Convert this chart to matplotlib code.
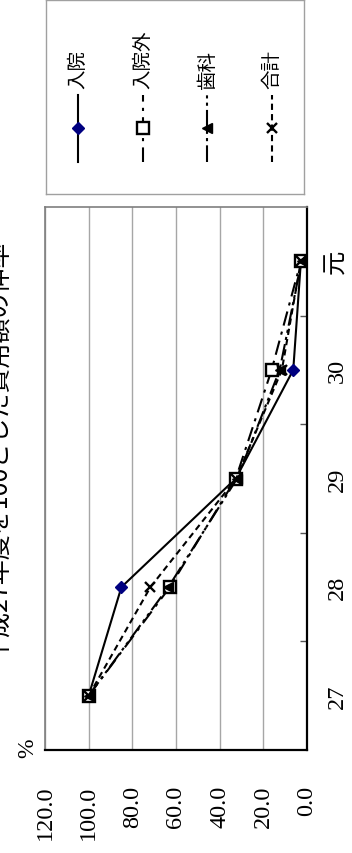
import matplotlib
matplotlib.use("Agg")
import matplotlib.pyplot as plt
from matplotlib.lines import Line2D

# Data: index of cost (FY27 = 100)
categories = ["27", "28", "29", "30", "元"]
series_names = ["入院", "入院外", "歯科", "合計"]
inpatient = [100.0, 85.0, 32.6, 6.3, 2.8]
outpatient = [100.0, 62.8, 32.6, 16.2, 2.8]
dental = [100.0, 63.5, 32.0, 12.5, 2.5]
total = [100.0, 71.7, 32.4, 11.5, 2.8]
value_ticks = [0, 20, 40, 60, 80, 100, 120]
title = "平成27年度を100とした費用額の伸率"
unit_label = "%"

W, H = 352, 854
fig = plt.figure(figsize=(W / 100, H / 100), dpi=100)


def fx(px):
    return px / W


def fy(py):
    return 1 - py / H


serif = ["Liberation Serif", "Noto Sans CJK JP"]
cjk = ["Noto Sans CJK JP", "DejaVu Sans"]

styles = [
    dict(color="black", lw=1.5, ls="-", marker="D", ms=6.5,
         mfc="#000080", mec="#000080"),
    dict(color="black", lw=1.5, ls=(0, (7, 3, 1.5, 3)), marker="s", ms=8,
         mfc="white", mec="black", mew=1.7),
    dict(color="black", lw=1.5, ls=(0, (8, 2, 1.5, 2, 1.5, 2)), marker="<",
         ms=7.5, mfc="black", mec="black"),
    dict(color="black", lw=1.5, ls=(0, (3, 2)), marker="x", ms=7.5,
         mfc="black", mec="black", mew=1.7),
]
all_series = [inpatient, outpatient, dental, total]

# Chart is laid out sideways: values run right-to-left, years run upward
ax = fig.add_axes([fx(45), fy(751), fx(307) - fx(45), fy(208) - fy(751)])
ax.set_xlim(120, 0)
ax.set_ylim(-0.5, len(categories) - 0.5)
pos = list(range(len(categories)))

for vals, st in zip(all_series, styles):
    ax.plot(vals, pos, **st, zorder=3)

ax.set_xticks(value_ticks)
ax.set_xticklabels([f"{v:.1f}" for v in value_ticks], rotation=90,
                   family=serif, fontsize=17.5)
ax.tick_params(axis="x", length=0, pad=25)
ax.grid(axis="x", color="#a6a6a6", lw=1, zorder=0)

ax.yaxis.tick_right()
ax.set_yticks(pos)
ax.set_yticklabels(categories, rotation=90, family=serif, fontsize=17.5,
                   va="center")
ax.tick_params(axis="y", which="major", length=0, pad=14)
ax.set_yticks([p + 0.5 for p in pos[:-1]], minor=True)
ax.tick_params(axis="y", which="minor", direction="in", length=5,
               width=1, color="#555555", right=True, left=False)

for side in ("right", "bottom"):
    ax.spines[side].set_color("black")
    ax.spines[side].set_linewidth(1.6)
for side in ("top", "left"):
    ax.spines[side].set_color("#7f7f7f")
    ax.spines[side].set_linewidth(1.2)

fig.text(fx(-1), fy(450), title, rotation=90, ha="center", va="center",
         fontsize=18, family=cjk)
fig.text(fx(28), fy(748), unit_label, rotation=90, ha="center", va="center",
         fontsize=17, family=serif)

# Legend box with entries stacked as columns
lax = fig.add_axes([fx(46), fy(195), fx(304) - fx(46), fy(0.5) - fy(195)])
lax.set_xlim(0, 1)
lax.set_ylim(1, 0)
lax.set_xticks([])
lax.set_yticks([])
for s in lax.spines.values():
    s.set_color("#a0a0a0")
    s.set_linewidth(1)

n = len(series_names)
for i, (name, st) in enumerate(zip(series_names, styles)):
    cx = (i + 0.5) / n
    line_st = {k: v for k, v in st.items()
               if k in ("color", "lw", "ls")}
    mark_st = {k: v for k, v in st.items()
               if k in ("marker", "ms", "mfc", "mec", "mew")}
    lax.add_line(Line2D([cx, cx], [0.835, 0.49], **line_st))
    lax.add_line(Line2D([cx], [0.66], ls="none", **mark_st))
    lax.text(cx, 0.455, name, rotation=90, ha="center", va="bottom",
             fontsize=14, family=cjk)

fig.savefig("out.png", dpi=100)
